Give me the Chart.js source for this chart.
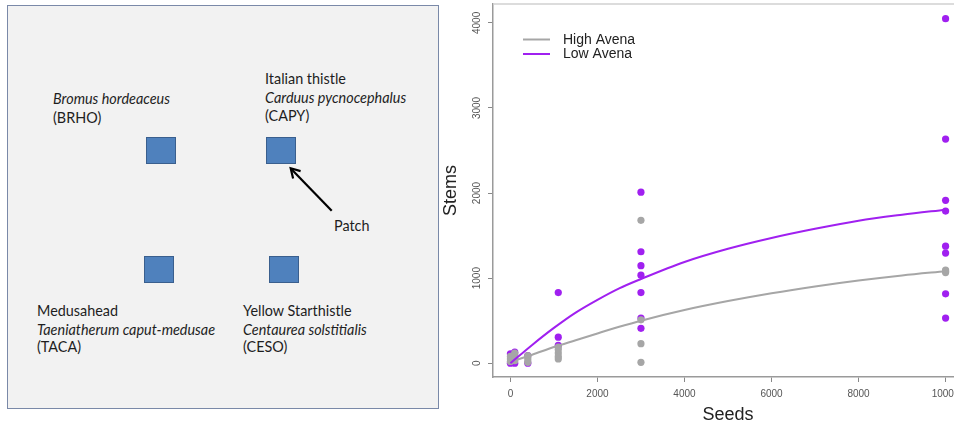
<!DOCTYPE html>
<html>
<head>
<meta charset="utf-8">
<script src="https://cdn.jsdelivr.net/npm/chart.js@4/dist/chart.umd.min.js"></script>
<style>
  html, body { margin:0; padding:0; background:#fff; width:954px; height:425px; overflow:hidden; }
  #diagram { position:absolute; left:7px; top:5px; width:430px; height:402px; background:#f2f2f2; border:1.5px solid #7a89a8; }
  .sq { position:absolute; width:28px; height:25px; background:#4f81bd; border:1px solid #3a5f8e; }
  .t { position:absolute; font-family:Lato, "Open Sans", sans-serif; font-size:14.4px; line-height:18px; color:#1e1e1e; white-space:nowrap; }
  .i { font-style:italic; }
  #chartwrap { position:absolute; left:440px; top:0; width:530px; height:425px; }
</style>
</head>
<body>
<div id="diagram"></div>
<div class="sq" style="left:146px;top:137px;"></div>
<div class="sq" style="left:266px;top:137px;"></div>
<div class="sq" style="left:144px;top:256px;"></div>
<div class="sq" style="left:269px;top:256px;"></div>

<div class="t i" style="left:53px;top:90px;">Bromus hordeaceus</div>
<div class="t" style="left:53px;top:109px;">(BRHO)</div>
<div class="t" style="left:265px;top:70px;">Italian thistle</div>
<div class="t i" style="left:265px;top:89px;">Carduus pycnocephalus</div>
<div class="t" style="left:265px;top:107px;">(CAPY)</div>
<div class="t" style="left:334px;top:217px;">Patch</div>
<div class="t" style="left:37px;top:302px;">Medusahead</div>
<div class="t i" style="left:37px;top:321px;">Taeniatherum caput-medusae</div>
<div class="t" style="left:37px;top:338px;">(TACA)</div>
<div class="t" style="left:243px;top:302px;">Yellow Starthistle</div>
<div class="t i" style="left:243px;top:321px;">Centaurea solstitialis</div>
<div class="t" style="left:243px;top:338px;">(CESO)</div>

<svg style="position:absolute;left:0;top:0;" width="440" height="425">
  <line x1="331.7" y1="210.7" x2="291.5" y2="169.2" stroke="#000" stroke-width="2.2"/>
  <polyline points="293.1,178.5 290.7,168.3 300.6,171.1" fill="none" stroke="#000" stroke-width="2.2"/>
</svg>

<div id="chartwrap"><canvas id="c" width="530" height="425"></canvas></div>

<script>
// Scatter points: High Avena (gray)
const highSeeds = [0,0,0, 100,100,100,100, 400,400,400,400, 1100,1100,1100,1100,1100, 3000,3000,3000,3000, 10000,10000,10000];
const highStems = [20,50,80, 30,60,100,120, 10,40,70,90, 50,80,120,160,190, 10,230,510,1680, 1065,1082,1095];
// Scatter points: Low Avena (purple)
const lowSeeds = [0,0, 100,100, 400,400, 1100,1100,1100, 3000,3000,3000,3000,3000,3000,3000, 10000,10000,10000,10000,10000,10000,10000,10000];
const lowStems = [0,110, 0,130, 0,90, 210,306,830, 410,530,830,1035,1146,1310,2010, 530,816,1294,1376,1788,1914,2635,4050];
// Fitted curves
const fitSeeds = [0,500,1000,1500,2000,2500,3000,4000,5000,6000,7000,8000,9000,10000];
const highFit = [15,100,190,270,350,428,500,625,730,822,902,972,1032,1082];
const lowFit  = [0,215,415,595,745,880,990,1190,1345,1472,1580,1675,1745,1805];
// Axis ticks
const xTicks = [0,2000,4000,6000,8000,10000];
const yTicks = [0,1000,2000,3000,4000];
const seriesNames = ['High Avena','Low Avena'];

const GRAY = '#a6a6a6', PURPLE = '#a020f0';
const pts = (xs, ys) => xs.map((x,i) => ({x, y: ys[i]}));

const legendPlugin = {
  id: 'rlegend',
  afterDraw(chart) {
    const ctx = chart.ctx;
    const items = chart.data.datasets.filter(d => d.showLine);
    ctx.save();
    items.forEach((d, i) => {
      const y = 39.5 + i * 14.5;
      ctx.strokeStyle = d.borderColor; ctx.lineWidth = 2;
      ctx.beginPath(); ctx.moveTo(83, y); ctx.lineTo(110, y); ctx.stroke();
      ctx.fillStyle = '#222'; ctx.font = '14px "Liberation Sans", Arial, sans-serif';
      ctx.textBaseline = 'middle'; ctx.textAlign = 'left';
      ctx.fillText(d.label, 123, y + 0.5);
    });
    ctx.restore();
  }
};
const framePlugin = {
  id: 'frame',
  beforeDatasetsDraw(chart) {
    const {ctx, chartArea} = chart;
    ctx.save();
    ctx.strokeStyle = '#d0d0d0'; ctx.lineWidth = 1.5;
    ctx.beginPath(); ctx.moveTo(chartArea.left, chartArea.top); ctx.lineTo(chart.width, chartArea.top); ctx.stroke();
    ctx.restore();
  }
};

new Chart(document.getElementById('c'), {
  type: 'scatter',
  data: {
    datasets: [
      { label: seriesNames[0], data: pts(fitSeeds, highFit), showLine: true, borderColor: GRAY, borderWidth: 2, pointRadius: 0, cubicInterpolationMode: 'monotone', order: 1 },
      { label: seriesNames[1], data: pts(fitSeeds, lowFit), showLine: true, borderColor: PURPLE, borderWidth: 2, pointRadius: 0, cubicInterpolationMode: 'monotone', order: 0 },
      { label: seriesNames[0] + ' points', data: pts(highSeeds, highStems), backgroundColor: GRAY, borderWidth: 0, pointRadius: 3.6, order: 2 },
      { label: seriesNames[1] + ' points', data: pts(lowSeeds, lowStems), backgroundColor: PURPLE, borderWidth: 0, pointRadius: 3.6, order: 3 }
    ]
  },
  options: {
    responsive: false,
    animation: false,
    layout: { padding: { top: 4, right: 7, left: 0, bottom: 0 } },
    plugins: { legend: { display: false }, tooltip: { enabled: false } },
    scales: {
      x: {
        type: 'linear', min: -400, max: 10400,
        afterBuildTicks: s => { s.ticks = xTicks.map(v => ({value: v})); },
        afterFit: s => { s.height = 48; s.paddingLeft = 0; s.paddingRight = 0; },
        ticks: { autoSkip: false, maxRotation: 0, padding: 6, color: '#555', font: { size: 10, family: '"Liberation Sans", Arial, sans-serif' }, callback: v => String(v) },
        grid: { display: true, drawOnChartArea: false, drawTicks: true, tickLength: 5, color: '#888', tickWidth: 1 },
        border: { display: true, color: '#9a9a9a', width: 1.5 },
        title: { display: true, text: 'Seeds', color: '#222', padding: { top: 0, bottom: -1 }, font: { size: 18, family: '"Liberation Sans", Arial, sans-serif' } }
      },
      y: {
        type: 'linear', min: -162, max: 4222,
        afterBuildTicks: s => { s.ticks = yTicks.map(v => ({value: v})); },
        afterFit: s => { s.width = 53; s.paddingTop = 0; s.paddingBottom = 0; },
        ticks: { autoSkip: false, minRotation: 90, maxRotation: 90, crossAlign: 'center', padding: 0, color: '#555', font: { size: 10, family: '"Liberation Sans", Arial, sans-serif' }, callback: v => String(v) },
        grid: { display: true, drawOnChartArea: false, drawTicks: true, tickLength: 5, color: '#888', tickWidth: 1 },
        border: { display: true, color: '#9a9a9a', width: 1.5 },
        title: { display: true, text: 'Stems', color: '#222', padding: { top: 0, bottom: 0 }, font: { size: 18, family: '"Liberation Sans", Arial, sans-serif' } }
      }
    }
  },
  plugins: [legendPlugin, framePlugin]
});
</script>
</body>
</html>
